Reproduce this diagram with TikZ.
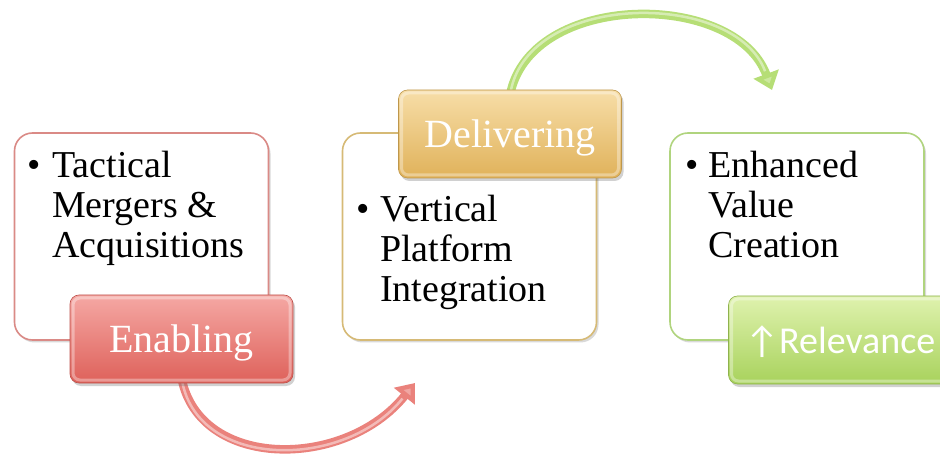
\documentclass[tikz,border=0pt]{standalone}
\usepackage{fontspec}
\setmainfont{Liberation Serif}
\newfontfamily\tagsans{Carlito}
\usetikzlibrary{arrows.meta,shadows,calc}

\definecolor{redline}{HTML}{DA8A86}
\definecolor{goldline}{HTML}{D6BA76}
\definecolor{greenline}{HTML}{B0D47E}
\definecolor{redtop}{HTML}{F5A8A4}
\definecolor{redbot}{HTML}{DE615A}
\definecolor{goldtop}{HTML}{F7DEA8}
\definecolor{goldbot}{HTML}{E0B25A}
\definecolor{greentop}{HTML}{DFF2AE}
\definecolor{greenbot}{HTML}{A8D25C}
\definecolor{redarrow}{HTML}{EA827C}
\definecolor{greenarrow}{HTML}{B6DE76}

% a left-aligned stack of lines whose baseline is that of the first line
\newcommand{\linestack}[1]{\begin{tabular}[t]{@{}l@{}}#1\end{tabular}}

\begin{document}
\begin{tikzpicture}[x=1pt,y=-1pt,
  panel/.style={draw=#1, line width=1.6pt, rounded corners=18pt, fill=white,
    minimum width=254pt, minimum height=207pt, inner sep=0pt,
    drop shadow={shadow xshift=2pt, shadow yshift=-2.5pt, opacity=.25, fill=black!60}},
  tag/.style={rounded corners=9pt, minimum width=223pt, minimum height=88pt,
    inner sep=0pt, text height=27pt, text depth=0pt, text=white,
    font=\fontsize{40}{44}\selectfont, draw=#1, line width=.6pt,
    drop shadow={shadow xshift=2pt, shadow yshift=-3pt, opacity=.3, fill=black!60},
    path picture={\draw[white, opacity=.35, line width=3pt, rounded corners=7pt]
      ($(path picture bounding box.south west)+(3,-3)$) rectangle
      ($(path picture bounding box.north east)+(-3,3)$);}},
  bullet/.style={anchor=base west, inner sep=0pt, font=\fontsize{38}{40}\selectfont},
  bodytext/.style={anchor=base west, inner sep=0pt,
    font=\fontsize{38}{40}\selectfont},
  flow/.style={line width=8.5pt, draw=#1,
    -{Triangle[length=17pt, width=26pt, fill=#1!70!white]},
    postaction={draw=white, opacity=.45, line width=2.5pt, arrows=-, shorten >=20pt, shorten <=4pt}}
]
\useasboundingbox (0,0) rectangle (940,454);

% white content panels
\node[panel=redline]   (p1) at (141.5,236.5) {};
\node[panel=goldline]  (p2) at (469.5,236.5) {};
\node[panel=greenline] (p3) at (797,236.5) {};

% panel texts
\node[bullet] (b1) at (27,178) {\textbullet};
\node[bodytext] (t1) at (52,178) {\linestack{Tactical\\Mergers \&\\Acquisitions}};
\node[bullet] (b2) at (356,222) {\textbullet};
\node[bodytext] (t2) at (380,222) {\linestack{Vertical\\Platform\\Integration}};
\node[bullet] (b3) at (685,178) {\textbullet};
\node[bodytext] (t3) at (708,178) {\linestack{Enhanced\\Value\\Creation}};

% connecting arrows (drawn before the tags so they start behind them)
\coordinate (redtip) at (415,383);
\coordinate (greentip) at (772,90);
\path (181.5,339) coordinate (enablingpos) (510,134) coordinate (deliveringpos);
\draw[flow=redarrow] ($(enablingpos)+(0,39)$) .. controls +(18,92) and +(-70,87) .. (redtip);
\draw[flow=greenarrow] ($(deliveringpos)+(0,-39)$) .. controls +(20,-104) and +(-37,-100) .. (greentip);

% stage tags
\node[tag=redbot!85!black, top color=redtop, bottom color=redbot] (enabling) at (enablingpos) {Enabling};
\node[tag=goldbot!85!black, top color=goldtop, bottom color=goldbot] (delivering) at (deliveringpos) {Delivering};
\node[tag=greenbot!85!black, top color=greentop, bottom color=greenbot,
  font=\tagsans\fontsize{38}{42}\selectfont] (relevance) at (840,340) {↑Relevance};
\end{tikzpicture}
\end{document}
